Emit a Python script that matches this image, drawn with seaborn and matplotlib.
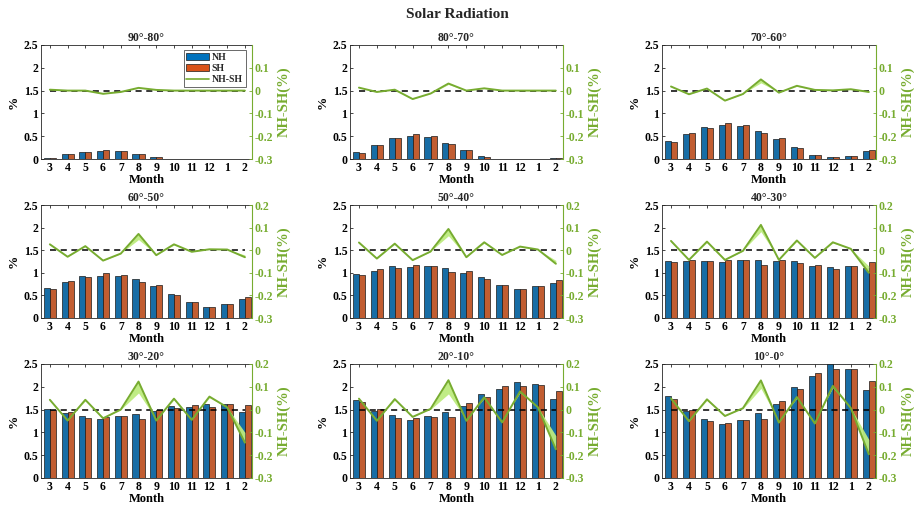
import numpy as np
import pandas as pd
import matplotlib
matplotlib.use("Agg")
import matplotlib.pyplot as plt
import seaborn as sns
from matplotlib.patches import Patch
from matplotlib.lines import Line2D

sns.set_theme(style="white")
plt.rcParams["font.family"] = ["Liberation Serif", "DejaVu Serif"]
plt.rcParams["font.weight"] = "bold"

months = ["3", "4", "5", "6", "7", "8", "9", "10", "11", "12", "1", "2"]
zones = ["90°-80°", "80°-70°", "70°-60°", "60°-50°", "50°-40°",
         "40°-30°", "30°-20°", "20°-10°", "10°-0°"]

# monthly share of annual solar radiation (%), northern / southern hemisphere
nh_90_80 = [0.02, 0.10, 0.16, 0.17, 0.17, 0.12, 0.05, 0.005, 0.0, 0.0, 0.0, 0.005]
sh_90_80 = [0.02, 0.10, 0.16, 0.19, 0.17, 0.10, 0.04, 0.0, 0.0, 0.0, 0.0, 0.005]
nh_80_70 = [0.15, 0.31, 0.46, 0.51, 0.48, 0.36, 0.20, 0.065, 0.005, 0.0, 0.0, 0.02]
sh_80_70 = [0.14, 0.31, 0.45, 0.54, 0.50, 0.32, 0.20, 0.05, 0.0, 0.0, 0.0, 0.02]
nh_70_60 = [0.39, 0.55, 0.70, 0.74, 0.73, 0.61, 0.44, 0.26, 0.09, 0.035, 0.065, 0.175]
sh_70_60 = [0.37, 0.56, 0.69, 0.78, 0.74, 0.57, 0.45, 0.24, 0.09, 0.035, 0.06, 0.19]
nh_60_50 = [0.66, 0.79, 0.92, 0.94, 0.94, 0.86, 0.70, 0.54, 0.35, 0.25, 0.31, 0.43]
sh_60_50 = [0.64, 0.81, 0.91, 0.99, 0.96, 0.79, 0.72, 0.51, 0.35, 0.24, 0.30, 0.46]
nh_50_40 = [0.98, 1.05, 1.15, 1.13, 1.15, 1.10, 0.99, 0.90, 0.72, 0.65, 0.70, 0.77]
sh_50_40 = [0.95, 1.08, 1.10, 1.17, 1.15, 1.01, 1.03, 0.86, 0.73, 0.64, 0.70, 0.83]
nh_40_30 = [1.26, 1.26, 1.27, 1.25, 1.28, 1.28, 1.26, 1.26, 1.15, 1.13, 1.16, 1.10]
sh_40_30 = [1.25, 1.28, 1.26, 1.28, 1.28, 1.18, 1.28, 1.22, 1.18, 1.09, 1.16, 1.23]
nh_30_20 = [1.52, 1.42, 1.36, 1.29, 1.35, 1.41, 1.46, 1.57, 1.56, 1.63, 1.62, 1.45]
sh_30_20 = [1.49, 1.44, 1.32, 1.33, 1.35, 1.29, 1.50, 1.53, 1.61, 1.56, 1.62, 1.59]
nh_20_10 = [1.71, 1.47, 1.38, 1.28, 1.35, 1.45, 1.58, 1.84, 1.95, 2.10, 2.06, 1.73]
sh_20_10 = [1.66, 1.51, 1.32, 1.31, 1.34, 1.33, 1.64, 1.78, 2.01, 2.02, 2.05, 1.90]
nh_10_0 = [1.79, 1.46, 1.30, 1.19, 1.27, 1.43, 1.63, 2.00, 2.24, 2.52, 2.40, 1.92]
sh_10_0 = [1.74, 1.50, 1.26, 1.21, 1.27, 1.30, 1.68, 1.95, 2.30, 2.39, 2.39, 2.12]

# NH-SH difference (%) and the width of its uncertainty band
diff_90_80 = [0.004, 0.0, 0.0, -0.014, -0.006, 0.012, 0.003, 0.0, 0.0, 0.0, 0.0, 0.0]
diff_80_70 = [0.013, -0.006, 0.004, -0.037, -0.013, 0.031, 0.0, 0.010, 0.0, 0.0, 0.0, 0.0]
diff_70_60 = [0.018, -0.016, 0.009, -0.044, -0.015, 0.049, -0.009, 0.021, 0.003, 0.001, 0.006, -0.006]
diff_60_50 = [0.026, -0.029, 0.018, -0.046, -0.015, 0.072, -0.022, 0.026, -0.007, 0.004, 0.003, -0.031]
diff_50_40 = [0.034, -0.037, 0.029, -0.044, -0.006, 0.094, -0.031, 0.035, -0.021, 0.016, 0.003, -0.060]
diff_40_30 = [0.041, -0.043, 0.038, -0.043, -0.003, 0.112, -0.043, 0.043, -0.034, 0.035, 0.006, -0.100]
diff_30_20 = [0.043, -0.048, 0.043, -0.038, 0.0, 0.123, -0.048, 0.048, -0.045, 0.057, 0.010, -0.145]
diff_20_10 = [0.048, -0.049, 0.046, -0.032, 0.003, 0.129, -0.049, 0.054, -0.056, 0.080, 0.010, -0.174]
diff_10_0 = [0.049, -0.051, 0.045, -0.028, 0.006, 0.128, -0.057, 0.055, -0.061, 0.104, 0.007, -0.196]

spread_90_80 = [0, 0, 0, 0.001, 0, 0.001, 0, 0, 0, 0, 0, 0]
spread_80_70 = [0, 0, 0, 0.002, 0, 0.004, 0, 0, 0, 0, 0, 0]
spread_70_60 = [0.002, 0.002, 0.001, 0.003, 0.002, 0.015, 0.002, 0.002, 0, 0, 0, 0.005]
spread_60_50 = [0.003, 0.003, 0.002, 0.004, 0.002, 0.025, 0.003, 0.003, 0.001, 0, 0, 0.010]
spread_50_40 = [0.004, 0.004, 0.003, 0.004, 0.002, 0.030, 0.003, 0.004, 0.002, 0.002, 0, 0.015]
spread_40_30 = [0.004, 0.004, 0.004, 0.004, 0.002, 0.030, 0.004, 0.004, 0.003, 0.003, 0, 0.030]
spread_30_20 = [0.005, 0.005, 0.005, 0.004, 0.002, 0.050, 0.005, 0.005, 0.004, 0.005, 0, 0.045]
spread_20_10 = [0.005, 0.005, 0.005, 0.004, 0.002, 0.060, 0.005, 0.005, 0.005, 0.006, 0, 0.060]
spread_10_0 = [0.005, 0.005, 0.005, 0.004, 0.002, 0.035, 0.005, 0.005, 0.005, 0.008, 0, 0.065]

nh_all = [nh_90_80, nh_80_70, nh_70_60, nh_60_50, nh_50_40, nh_40_30, nh_30_20, nh_20_10, nh_10_0]
sh_all = [sh_90_80, sh_80_70, sh_70_60, sh_60_50, sh_50_40, sh_40_30, sh_30_20, sh_20_10, sh_10_0]
diff_all = [diff_90_80, diff_80_70, diff_70_60, diff_60_50, diff_50_40, diff_40_30, diff_30_20, diff_20_10, diff_10_0]
spread_all = [spread_90_80, spread_80_70, spread_70_60, spread_60_50, spread_50_40,
              spread_40_30, spread_30_20, spread_20_10, spread_10_0]

left_ticks = [0, 0.5, 1, 1.5, 2, 2.5]
left_labels = ["0", "0.5", "1", "1.5", "2", "2.5"]
right_ticks = [-0.3, -0.2, -0.1, 0, 0.1, 0.2]
right_labels = ["-0.3", "-0.2", "-0.1", "0", "0.1", "0.2"]

BLUE = "#0072BD"
ORANGE = "#D95319"
GREEN = "#77AC30"
BAND = "#BDEB7F"
AXC = "#262626"

W, H = 914, 509
fig = plt.figure(figsize=(W / 100, H / 100), dpi=100)
fig.patch.set_facecolor("white")

col_x = [(41, 252), (350, 563), (662, 876)]
row_y = [(45, 159), (205, 318), (364, 478)]

tick_fs = 8.5
idx = np.arange(len(months))

for k in range(9):
    r, c = divmod(k, 3)
    x0, x1 = col_x[c]
    y0, y1 = row_y[r]
    ax = fig.add_axes([x0 / W, 1 - y1 / H, (x1 - x0) / W, (y1 - y0) / H])

    df = pd.DataFrame({
        "Month": months * 2,
        "value": nh_all[k] + sh_all[k],
        "hemi": ["NH"] * 12 + ["SH"] * 12,
    })
    sns.barplot(data=df, x="Month", y="value", hue="hemi", order=months,
                hue_order=["NH", "SH"], palette=[BLUE, ORANGE], width=0.68,
                errorbar=None, edgecolor="#1a1a1a", linewidth=0.5,
                legend=False, ax=ax)
    ax.set_xlim(-0.5, 11.4)
    ax.set_ylim(0, 2.5)
    ax.set_yticks(left_ticks)
    ax.set_yticklabels(left_labels)
    ax.set_xlabel("Month", fontsize=9, fontweight="bold", labelpad=0, color="black")
    ax.set_ylabel("%", fontsize=9.5, fontweight="bold", labelpad=3, color="black")
    ax.set_title(zones[k], fontsize=8.5, fontweight="bold", pad=3)
    ax.tick_params(axis="both", direction="in", length=2.5, width=0.6, labelsize=tick_fs,
                   colors=AXC, labelcolor="black", top=True, pad=2)
    ax.tick_params(axis="y", right=False)
    for lab in ax.get_xticklabels() + ax.get_yticklabels():
        lab.set_fontweight("bold")
    for s in ["left", "top", "bottom"]:
        ax.spines[s].set_color(AXC)
        ax.spines[s].set_linewidth(0.6)
    ax.spines["right"].set_visible(False)

    ax2 = ax.twinx()
    d = np.array(diff_all[k])
    sp = np.array(spread_all[k])
    inner = d - np.sign(d) * sp
    ax2.fill_between(idx, d, inner, color=BAND, alpha=0.95, linewidth=0, zorder=2)
    ax2.plot([0, 11], [0, 0], ls=(0, (4, 3)), color="black", lw=1.1, zorder=3)
    sns.lineplot(x=idx, y=d, color=GREEN, lw=1.4, ax=ax2, zorder=4)
    ax2.set_ylim(-0.3, 0.2)
    if r == 0:
        ax2.set_yticks(right_ticks[:-1])
        ax2.set_yticklabels(right_labels[:-1])
    else:
        ax2.set_yticks(right_ticks)
        ax2.set_yticklabels(right_labels)
    ax2.set_ylabel("NH-SH(%)", fontsize=10.5, fontweight="bold", color=GREEN, labelpad=3)
    ax2.tick_params(axis="y", direction="in", length=2.5, width=0.6, labelsize=tick_fs,
                    colors=GREEN, pad=2, right=True)
    for lab in ax2.get_yticklabels():
        lab.set_fontweight("bold")
    for s in ["left", "top", "bottom"]:
        ax2.spines[s].set_visible(False)
    ax2.spines["right"].set_color(GREEN)
    ax2.spines["right"].set_linewidth(0.8)
    ax2.set_xlim(-0.5, 11.4)

    if k == 0:
        handles = [Patch(facecolor=BLUE, edgecolor="#1a1a1a", linewidth=0.5),
                   Patch(facecolor=ORANGE, edgecolor="#1a1a1a", linewidth=0.5),
                   Line2D([0], [0], color=GREEN, lw=1.2)]
        leg = ax2.legend(handles, ["NH", "SH", "NH-SH"], loc="upper right",
                         bbox_to_anchor=(0.97, 0.955), fontsize=7, frameon=True,
                         fancybox=False, edgecolor=AXC, borderpad=0.3,
                         labelspacing=0.2, handlelength=2.3, handletextpad=0.3,
                         borderaxespad=0)
        leg.get_frame().set_linewidth(0.6)
        for t in leg.get_texts():
            t.set_fontweight("bold")

fig.text(0.5, 1 - 15 / H, "Solar Radiation", ha="center", va="center",
         fontsize=11, fontweight="bold")

fig.savefig("out.png", dpi=100, facecolor="white")
